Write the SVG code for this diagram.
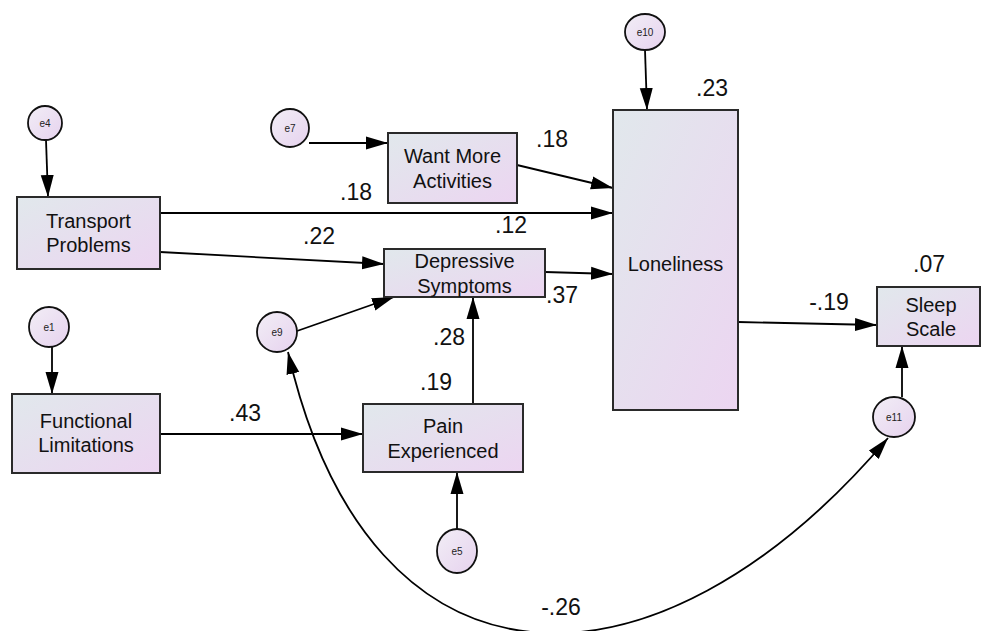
<svg xmlns="http://www.w3.org/2000/svg" width="981" height="631" viewBox="0 0 981 631">
  <defs>
    <linearGradient id="boxFill" x1="0" y1="0" x2="1" y2="1">
      <stop offset="0" stop-color="#e1e8ec"/>
      <stop offset="1" stop-color="#ecd5f1"/>
    </linearGradient>
    <linearGradient id="errFill" x1="0" y1="0" x2="1" y2="1">
      <stop offset="0" stop-color="#f2eef6"/>
      <stop offset="1" stop-color="#e6d2ee"/>
    </linearGradient>
    <marker id="arrow" markerUnits="userSpaceOnUse" markerWidth="22" markerHeight="14" refX="22" refY="7" orient="auto-start-reverse" viewBox="0 0 22 14">
      <path d="M0,0.5 L22,7 L0,13.5 z" fill="#000"/>
    </marker>
  </defs>
  <style>
    .box { fill: url(#boxFill); stroke: #2a2a2a; stroke-width: 2; }
    .err { fill: url(#errFill); stroke: #111; stroke-width: 1.8; }
    .lbl { font-family: "Liberation Sans", Arial, sans-serif; font-size: 20px; fill: #111; text-anchor: middle; }
    .elbl { font-family: "Liberation Sans", Arial, sans-serif; font-size: 10px; fill: #222; text-anchor: middle; }
    .coef { font-family: "Liberation Sans", Arial, sans-serif; font-size: 23px; fill: #111; text-anchor: middle; }
    .path { fill: none; stroke: #000; stroke-width: 1.8; marker-end: url(#arrow); }
    .cov { fill: none; stroke: #000; stroke-width: 1.8; marker-start: url(#arrow); marker-end: url(#arrow); }
  </style>

  <rect width="981" height="631" fill="#ffffff"/>

  <!-- connectors -->
  <g id="connectors">
    <line class="path" x1="46" y1="140" x2="48" y2="197"/>
    <line class="path" x1="52" y1="347" x2="52" y2="394"/>
    <line class="path" x1="309" y1="143" x2="388" y2="143"/>
    <line class="path" x1="645" y1="50" x2="647" y2="110"/>
    <line class="path" x1="902" y1="397" x2="902" y2="346"/>
    <line class="path" x1="457" y1="529" x2="457" y2="472"/>
    <line class="path" x1="473" y1="404" x2="473" y2="297"/>
    <line class="path" x1="297" y1="331" x2="394" y2="297"/>
    <line class="path" x1="160" y1="252" x2="384" y2="264"/>
    <line class="path" x1="160" y1="213" x2="613" y2="213"/>
    <line class="path" x1="517" y1="165" x2="613" y2="188"/>
    <line class="path" x1="545" y1="272" x2="613" y2="274"/>
    <line class="path" x1="160" y1="434" x2="363" y2="434"/>
    <line class="path" x1="738" y1="322" x2="877" y2="325"/>
    <path class="cov" d="M288,352 C370,710 655,712 888,438"/>
  </g>

  <!-- observed variables -->
  <g id="transport">
    <rect class="box" x="17" y="197" width="143" height="72"/>
    <text class="lbl" x="88.5" y="228">Transport</text>
    <text class="lbl" x="88.5" y="252">Problems</text>
  </g>
  <g id="functional">
    <rect class="box" x="12" y="394" width="148" height="79"/>
    <text class="lbl" x="86" y="428">Functional</text>
    <text class="lbl" x="86" y="452">Limitations</text>
  </g>
  <g id="activities">
    <rect class="box" x="388" y="133" width="129" height="70"/>
    <text class="lbl" x="452.5" y="163">Want More</text>
    <text class="lbl" x="452.5" y="188">Activities</text>
  </g>
  <g id="depressive">
    <rect class="box" x="384" y="249" width="161" height="48"/>
    <text class="lbl" x="464.5" y="268">Depressive</text>
    <text class="lbl" x="464.5" y="293">Symptoms</text>
  </g>
  <g id="pain">
    <rect class="box" x="363" y="404" width="160" height="68"/>
    <text class="lbl" x="443" y="433">Pain</text>
    <text class="lbl" x="443" y="458">Experienced</text>
  </g>
  <g id="loneliness">
    <rect class="box" x="613" y="110" width="125" height="300"/>
    <text class="lbl" x="675.5" y="271">Loneliness</text>
  </g>
  <g id="sleep">
    <rect class="box" x="877" y="287" width="103" height="59"/>
    <text class="lbl" x="931" y="312">Sleep</text>
    <text class="lbl" x="931" y="336">Scale</text>
  </g>

  <!-- error terms -->
  <g id="e4">
    <ellipse class="err" cx="45" cy="123" rx="17" ry="17"/>
    <text class="elbl" x="45" y="126.5">e4</text>
  </g>
  <g id="e7">
    <ellipse class="err" cx="290" cy="128" rx="19" ry="19"/>
    <text class="elbl" x="290" y="131.5">e7</text>
  </g>
  <g id="e10">
    <ellipse class="err" cx="645" cy="32" rx="20" ry="18"/>
    <text class="elbl" x="645" y="35.5">e10</text>
  </g>
  <g id="e1">
    <ellipse class="err" cx="49" cy="327" rx="20" ry="20"/>
    <text class="elbl" x="49" y="330.5">e1</text>
  </g>
  <g id="e9">
    <ellipse class="err" cx="277" cy="332" rx="20" ry="20"/>
    <text class="elbl" x="277" y="335.5">e9</text>
  </g>
  <g id="e11">
    <ellipse class="err" cx="894" cy="417" rx="21" ry="20"/>
    <text class="elbl" x="894" y="420.5">e11</text>
  </g>
  <g id="e5">
    <ellipse class="err" cx="457" cy="551" rx="20" ry="22"/>
    <text class="elbl" x="457" y="554.5">e5</text>
  </g>

  <!-- estimates -->
  <g id="estimates">
    <text class="coef" x="552" y="147">.18</text>
    <text class="coef" x="356" y="200">.18</text>
    <text class="coef" x="511" y="233">.12</text>
    <text class="coef" x="319" y="244">.22</text>
    <text class="coef" x="712" y="96">.23</text>
    <text class="coef" x="562" y="303">.37</text>
    <text class="coef" x="929" y="272">.07</text>
    <text class="coef" x="829" y="310">-.19</text>
    <text class="coef" x="449" y="345">.28</text>
    <text class="coef" x="436" y="390">.19</text>
    <text class="coef" x="245" y="421">.43</text>
    <text class="coef" x="561" y="615">-.26</text>
  </g>
</svg>
